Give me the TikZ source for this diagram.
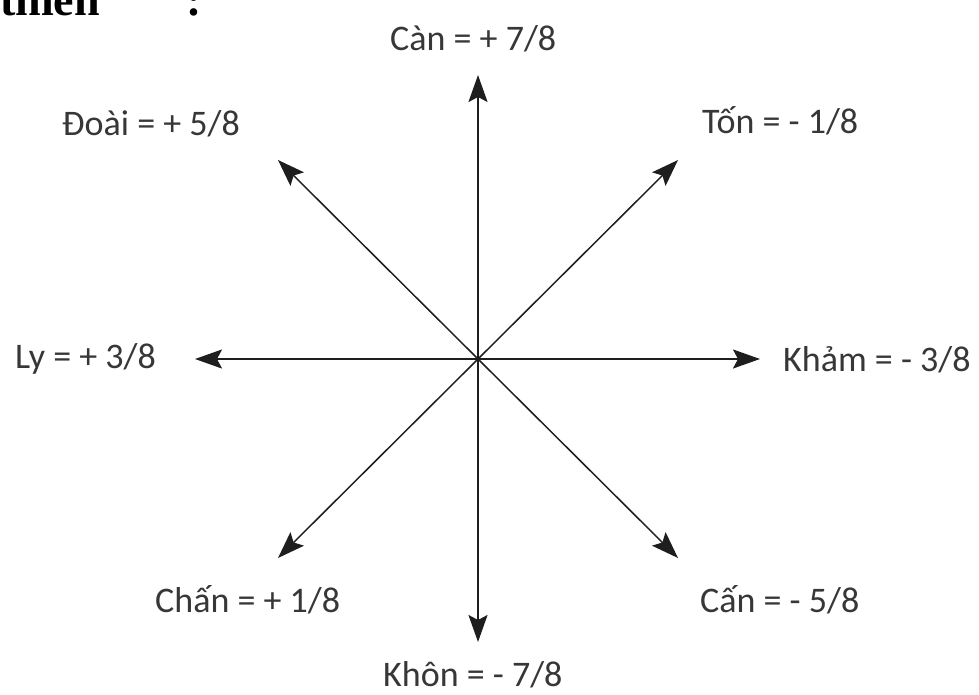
\documentclass[tikz,border=0pt]{standalone}
\usepackage{fontspec}
\setmainfont{Carlito}
\newfontfamily\headserif{Liberation Serif}
\usepackage{tikz}
\usetikzlibrary{arrows.meta, positioning, calc}
\definecolor{InkGray}{RGB}{30, 30, 30}
\definecolor{LabelGray}{RGB}{55, 55, 55}

\begin{document}
\begin{tikzpicture}[x=1pt, y=-1pt,
    axis/.style={line width=1.9pt, color=InkGray, -{Stealth[length=27pt, width=19pt, inset=5pt]}},
    diag/.style={line width=1.5pt, color=InkGray, -{Stealth[length=27pt, width=19pt, inset=5pt]}},
    lbl/.style={anchor=base west, inner sep=0pt, color=LabelGray, font=\fontsize{36}{42}\selectfont}]
    \useasboundingbox (0,0) rectangle (979,694);
    \fill[white] (0,0) rectangle (979,694);

    % cut-off heading line
    \node[anchor=base west, inner sep=0pt, font=\headserif\bfseries\fontsize{46}{50}\selectfont] (head) at (0,15) {thiên};
    \node[anchor=base west, inner sep=0pt, font=\headserif\bfseries\fontsize{46}{50}\selectfont] (headcolon) at (186,15) {:};

    \coordinate (O) at (478,359);

    % tips of the eight arrows
    \coordinate (Tcan)   at (478,75);
    \coordinate (Tkhon)  at (478,642);
    \coordinate (Tly)    at (195,359);
    \coordinate (Tkham)  at (760,359);
    \coordinate (Tdoai)  at (278,160);
    \coordinate (Tton)   at (678,160);
    \coordinate (Tchan)  at (278,558);
    \coordinate (Tcaan)  at (678,558);

    \draw[axis] (O) -- (Tcan);
    \draw[axis] (O) -- (Tkhon);
    \draw[axis] (O) -- (Tly);
    \draw[axis] (O) -- (Tkham);
    \draw[diag] (O) -- (Tdoai);
    \draw[diag] (O) -- (Tton);
    \draw[diag] (O) -- (Tchan);
    \draw[diag] (O) -- (Tcaan);

    % labels
    \node[lbl] (can)  at (390,50)  {Càn = + 7/8};
    \node[lbl] (doai) at (62,135)  {Đoài = + 5/8};
    \node[lbl] (ton)  at (702,133) {Tốn = - 1/8};
    \node[lbl] (ly)   at (15,368)  {Ly = + 3/8};
    \node[lbl] (kham) at (783,371) {Khảm = - 3/8};
    \node[lbl] (chan) at (155,612) {Chấn = + 1/8};
    \node[lbl] (caan) at (700,612) {Cấn = - 5/8};
    \node[lbl] (khon) at (383,686) {Khôn = - 7/8};
\end{tikzpicture}
\end{document}
